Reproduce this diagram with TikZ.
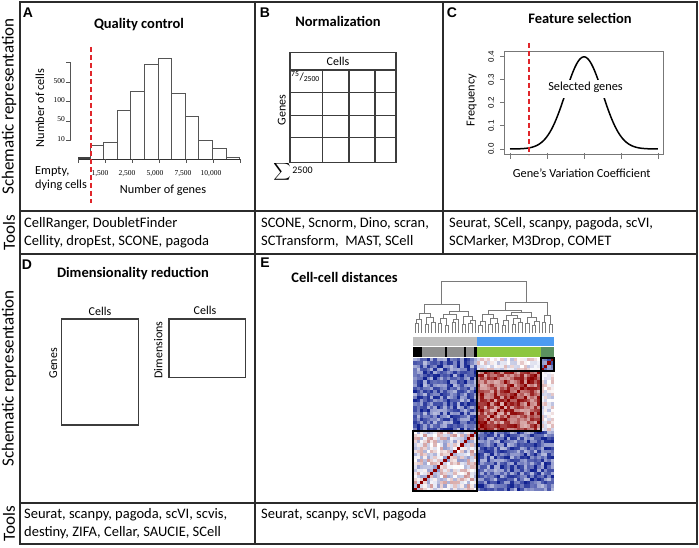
\documentclass[tikz,border=0pt]{standalone}
\usepackage{amsmath}
\usepackage{fontspec}
\setmainfont{Carlito}
\newfontfamily\arialf{Liberation Sans}
\newfontfamily\timesf{Liberation Serif}
\definecolor{tblc}{HTML}{2B2B2B}
\definecolor{boxc}{HTML}{3C3C3C}
\definecolor{barc}{HTML}{555555}
\definecolor{cutred}{HTML}{E0262B}
\definecolor{hmblue}{HTML}{0E1F8F}
\definecolor{hmred}{HTML}{8B0000}
\definecolor{barblue}{HTML}{4C9BF2}
\definecolor{bargray}{HTML}{BEBEBE}
\definecolor{bardgray}{HTML}{8E8E8E}
\definecolor{bargreen}{HTML}{8DC63F}
\definecolor{bardgreen}{HTML}{5B9160}
\definecolor{dendc}{HTML}{7A7A7A}
\definecolor{plotc}{HTML}{777777}
\newcommand\dendro[5]{\draw[dendline] (#1,#2) -- (#1,#5) -- (#3,#5) -- (#3,#4);}
\begin{document}
\begin{tikzpicture}[x=1pt,y=-1pt,
  tbl/.style={line width=1.3pt,draw=tblc},
  sidelbl/.style={rotate=90,inner sep=0pt,font=\fontsize{17}{20}\selectfont},
  plet/.style={inner sep=0pt,font=\arialf\bfseries\fontsize{14}{16}\selectfont},
  ttl/.style={inner sep=0pt,font=\bfseries\fontsize{14.5}{17}\selectfont},
  tooltxt/.style={anchor=west,align=left,inner sep=0pt,font=\fontsize{14.5}{18}\selectfont},
  axl/.style={inner sep=0pt,font=\fontsize{12.3}{14}\selectfont},
  ticklbl/.style={inner sep=0pt,font=\timesf\fontsize{7.5}{8}\selectfont},
  rticklbl/.style={inner sep=0pt,rotate=90,font=\arialf\fontsize{8}{9}\selectfont},
  histbar/.style={draw=barc,line width=1pt,fill=white},
  axisln/.style={draw=barc,line width=0.9pt},
  gridln/.style={draw=boxc,line width=1.2pt},
  cutline/.style={draw=cutred,line width=1.8pt,dash pattern=on 5pt off 3pt},
  plotbox/.style={draw=plotc,line width=1pt},
  blk/.style={draw=black,line width=2pt},
  dendline/.style={draw=dendc,line width=0.6pt}]
\useasboundingbox (0,0) rectangle (699,548);
\fill[white] (0,0) rectangle (699,548);

% ---------- table ----------
\draw[tbl] (20,2) rectangle (697,544);
\draw[tbl] (20,211) -- (697,211);
\draw[tbl] (20,254) -- (697,254);
\draw[tbl] (20,503) -- (697,503);
\draw[tbl] (255,2) -- (255,254);
\draw[tbl] (443,2) -- (443,254);
\draw[tbl] (255,254) -- (255,544);

\node[sidelbl] (sr1) at (9,106.5) {Schematic representation};
\node[sidelbl] (tl1) at (9,232.5) {Tools};
\node[sidelbl] (sr2) at (9,378.5) {Schematic representation};
\node[sidelbl] (tl2) at (9,523.5) {Tools};

% ---------- panel letters and titles ----------
\node[plet] (la) at (28,13) {A};
\node[plet] (lb) at (265,13) {B};
\node[plet] (lc) at (452,13) {C};
\node[plet] (ld) at (27,265) {D};
\node[plet] (le) at (265,263) {E};
\node[ttl] (ta) at (139,25) {Quality control};
\node[ttl] (tb) at (338,21) {Normalization};
\node[ttl] (tc) at (580,18.5) {Feature selection};
\node[ttl] (td) at (133,273.5) {Dimensionality reduction};
\node[ttl] (te) at (344.5,277) {Cell-cell distances};

% ---------- tools ----------
\node[tooltxt] (toola) at (24,232.5) {CellRanger, DoubletFinder\\Cellity, dropEst, SCONE, pagoda};
\node[tooltxt] (toolb) at (261,232.5) {SCONE, Scnorm, Dino, scran,\\SCTransform,\ \ MAST, SCell};
\node[tooltxt] (toolc) at (449,232.5) {Seurat, SCell, scanpy, pagoda, scVI,\\SCMarker, M3Drop, COMET};
\node[tooltxt] (toold) at (24,523.5) {Seurat, scanpy, pagoda, scVI, scvis,\\destiny, ZIFA, Cellar, SAUCIE, SCell};
\node[tooltxt] (toole) at (261,514.5) {Seurat, scanpy, scVI, pagoda};

% ---------- panel A: histogram ----------
\draw[histbar] (90,159.3) rectangle (103.6,145.7);
\draw[histbar] (103.6,159.3) rectangle (117.2,142.3);
\draw[histbar] (117.2,159.3) rectangle (130.8,111);
\draw[histbar] (130.8,159.3) rectangle (144.4,91.7);
\draw[histbar] (144.4,159.3) rectangle (158,64.3);
\draw[histbar] (158,159.3) rectangle (171.6,58.3);
\draw[histbar] (171.6,159.3) rectangle (185.2,94);
\draw[histbar] (185.2,159.3) rectangle (198.8,116.7);
\draw[histbar] (198.8,159.3) rectangle (212.4,141);
\draw[histbar] (212.4,159.3) rectangle (226,148.3);
\draw[histbar] (226,159.3) rectangle (239.6,157.3);
\draw[line width=1.3pt,draw=black!80] (78,159.3) -- (240,159.3);
\draw[line width=2.4pt,draw=black!75] (78,158.3) -- (90,158.3);
\foreach \tx in {78,105,132,159,186,213,240} \draw[axisln] (\tx,159.3) -- (\tx,163.5);
\draw[axisln] (70.7,62.7) -- (70.7,140.3);
\foreach \ty in {62.7,82.7,101.7,121,140.3} \draw[axisln] (66,\ty) -- (70.7,\ty);
\node[ticklbl,anchor=east] (y500) at (65,81.2) {500};
\node[ticklbl,anchor=east] (y100) at (65,100.2) {100};
\node[ticklbl,anchor=east] (y50) at (65,119.5) {50};
\node[ticklbl,anchor=east] (y10) at (65,138.8) {10};
\node[ticklbl] (x1) at (100,174) {1,500};
\node[ticklbl] (x2) at (127,174) {2,500};
\node[ticklbl] (x3) at (155,174) {5,000};
\node[ticklbl] (x4) at (183,174) {7,500};
\node[ticklbl] (x5) at (211,174) {10,000};
\node[axl,rotate=90] (noc) at (40,108) {Number of cells};
\node[axl] (nog) at (163,190) {Number of genes};
\node[axl,anchor=west] (emp1) at (35,172) {Empty,};
\node[axl,anchor=west] (emp2) at (35,185.5) {dying cells};
\draw[cutline] (90.7,47) -- (90.7,203);

% ---------- panel B: grid ----------
\draw[gridln] (290,52.7) rectangle (396,162.3);
\draw[gridln] (290,70) -- (396,70);
\foreach \gy in {92.3,115.7,137.3} \draw[gridln] (290,\gy) -- (396,\gy);
\foreach \gx in {322.7,349,375} \draw[gridln] (\gx,70) -- (\gx,162.3);
\node[axl,font=\fontsize{12}{14}\selectfont] (cellsb) at (338,61.5) {Cells};
\node[axl,rotate=90,font=\fontsize{12}{14}\selectfont] (genesb) at (281.7,110) {Genes};
\node[inner sep=0pt,anchor=north west,font=\fontsize{11}{12}\selectfont] (frac) at (291,71) {\textsuperscript{75}/\textsubscript{2500}};
\node[inner sep=0pt,font=\fontsize{12}{14}\selectfont] (sumsig) at (282,172) {$\displaystyle\sum$};
\node[inner sep=0pt,font=\fontsize{10}{12}\selectfont] (sumn) at (302.5,170) {2500};

% ---------- panel C: density ----------
\draw[plotbox] (504,52) rectangle (663,155);
\foreach \ty/\tl in {149/0.0,125.9/0.1,102.8/0.2,79.7/0.3,56.6/0.4}{
  \draw[plotc,line width=0.9pt] (500,\ty) -- (504,\ty);
  \node[rticklbl] at (491,\ty) {\tl};
}
\foreach \tx in {510,547,584,621,658} \draw[plotc,line width=0.9pt] (\tx,153) -- (\tx,159);
\draw[line width=1.5pt,black] plot[domain=-4:4,samples=90,smooth] ({584+18.5*\x},{149-92.16*exp(-\x*\x/2)});
\node[axl,fill=white,inner xsep=1pt,text height=11pt,text depth=7pt,anchor=base] (selg) at (585.5,91) {Selected genes};
\node[axl,rotate=90] (freq) at (471.7,100) {Frequency};
\node[axl] (gvc) at (581.7,173.3) {Gene’s Variation Coefficient};
\draw[cutline] (528.7,43) -- (528.7,155);

% ---------- panel D ----------
\draw[gridln] (61.7,319) rectangle (138.3,425);
\draw[gridln] (169,319) rectangle (245.7,377.7);
\node[axl,font=\fontsize{12}{14}\selectfont] (cellsd1) at (100,311.5) {Cells};
\node[axl,font=\fontsize{12}{14}\selectfont] (cellsd2) at (205,310.5) {Cells};
\node[axl,rotate=90,font=\fontsize{12}{14}\selectfont] (genesd) at (53.3,363.3) {Genes};
\node[axl,rotate=90,font=\fontsize{12}{14}\selectfont] (dimsd) at (158.3,350) {Dimensions};

% ---------- panel E: heatmap ----------
\foreach \cc in {0,...,41}{
  \foreach \rr in {0,...,41}{
    \pgfmathtruncatemacro{\bb}{41-\rr}
    \pgfmathtruncatemacro{\ka}{\cc<19 ? 0 : (\cc<38 ? 1 : 2)}
    \pgfmathtruncatemacro{\kb}{\bb<19 ? 0 : (\bb<38 ? 1 : 2)}
    \pgfmathsetmacro{\hh}{mod(abs(sin((\cc+\bb)*37.7+\cc*\bb*3.1))*997.3,1)}
    \pgfmathtruncatemacro{\code}{\cc==\bb ? 9 : 3*\ka+\kb}
    \ifcase\code
      \pgfmathtruncatemacro{\vv}{abs(\hh-0.5)*90}%
      \ifdim\hh pt<0.5pt \def\col{hmred}\else\def\col{hmblue}\fi
    \or
      \pgfmathtruncatemacro{\vv}{30+70*\hh}\def\col{hmblue}%
    \or
      \pgfmathtruncatemacro{\vv}{30+70*\hh}\def\col{hmblue}%
    \or
      \pgfmathtruncatemacro{\vv}{30+70*\hh}\def\col{hmblue}%
    \or
      \pgfmathtruncatemacro{\vv}{30+70*\hh}\def\col{hmred}%
    \or
      \pgfmathtruncatemacro{\vv}{abs(\hh-0.5)*60}%
      \ifdim\hh pt<0.5pt \def\col{hmred}\else\def\col{hmblue}\fi
    \or
      \pgfmathtruncatemacro{\vv}{30+70*\hh}\def\col{hmblue}%
    \or
      \pgfmathtruncatemacro{\vv}{abs(\hh-0.5)*60}%
      \ifdim\hh pt<0.5pt \def\col{hmred}\else\def\col{hmblue}\fi
    \or
      \pgfmathtruncatemacro{\vv}{35+45*\hh}\def\col{hmblue}%
    \or
      \def\vv{100}\def\col{hmred}%
    \fi
    \fill[\col!\vv!white] ({413.3+\cc*3.348},{358.3+\rr*3.152}) rectangle ++(3.65,3.45);
  }
}
\draw[blk] (413.3,430.8) rectangle (476.9,490.7);
\draw[blk] (476.9,370.9) rectangle (540.5,430.8);
\draw[blk] (540.5,358.3) rectangle (553.9,370.9);

% colour bars
\fill[bargray] (413.3,336.7) rectangle (476.9,346);
\fill[barblue] (476.9,336.7) rectangle (553.9,346);
\fill[bardgray] (413.3,347.3) rectangle (476.9,357.3);
\fill[black] (413.3,347.3) rectangle (421.7,357.3);
\fill[black] (445,347.3) rectangle (447,357.3);
\fill[black] (463.5,347.3) rectangle (466,357.3);
\fill[black] (473.5,347.3) rectangle (476.9,357.3);
\fill[bargreen] (476.9,347.3) rectangle (540.5,357.3);
\fill[bardgreen] (540.5,347.3) rectangle (553.9,357.3);

% dendrogram
\begin{scope}[x=3.348pt,xshift=414.97pt]
\def\L{333}
\dendro{0}{\L}{1}{\L}{323}
\dendro{0.5}{323}{2}{\L}{319}
\dendro{3}{\L}{4}{\L}{324}
\dendro{5}{\L}{6}{\L}{322}
\dendro{3.5}{324}{5.5}{322}{317}
\dendro{1.25}{319}{4.5}{317}{313}
\dendro{7}{\L}{8}{\L}{323}
\dendro{9}{\L}{10}{\L}{325}
\dendro{7.5}{323}{9.5}{325}{318}
\dendro{11}{\L}{12}{\L}{322}
\dendro{11.5}{322}{13}{\L}{319}
\dendro{8.5}{318}{12.25}{319}{314}
\dendro{14}{\L}{15}{\L}{324}
\dendro{16}{\L}{17}{\L}{323}
\dendro{16.5}{323}{18}{\L}{320}
\dendro{14.5}{324}{17.25}{320}{316}
\dendro{10.375}{314}{15.875}{316}{311}
\dendro{2.875}{313}{13.125}{311}{304}
\dendro{19}{\L}{20}{\L}{325}
\dendro{19.5}{325}{21}{\L}{321}
\dendro{22}{\L}{23}{\L}{324}
\dendro{24}{\L}{25}{\L}{323}
\dendro{22.5}{324}{24.5}{323}{318}
\dendro{20.25}{321}{23.5}{318}{314}
\dendro{26}{\L}{27}{\L}{325}
\dendro{26.5}{325}{28}{\L}{320}
\dendro{29}{\L}{30}{\L}{324}
\dendro{31}{\L}{32}{\L}{322}
\dendro{29.5}{324}{31.5}{322}{318}
\dendro{27.25}{320}{30.5}{318}{315}
\dendro{33}{\L}{34}{\L}{323}
\dendro{35}{\L}{36}{\L}{325}
\dendro{35.5}{325}{37}{\L}{321}
\dendro{33.5}{323}{36.25}{321}{317}
\dendro{28.875}{315}{34.875}{317}{312}
\dendro{21.875}{314}{31.875}{312}{310}
\dendro{38}{\L}{39}{\L}{322}
\dendro{40}{\L}{41}{\L}{324}
\dendro{38.5}{322}{40.5}{324}{315}
\dendro{26.875}{310}{39.5}{315}{302}
\dendro{8}{304}{33.1875}{302}{281}
\end{scope}
\end{tikzpicture}
\end{document}
